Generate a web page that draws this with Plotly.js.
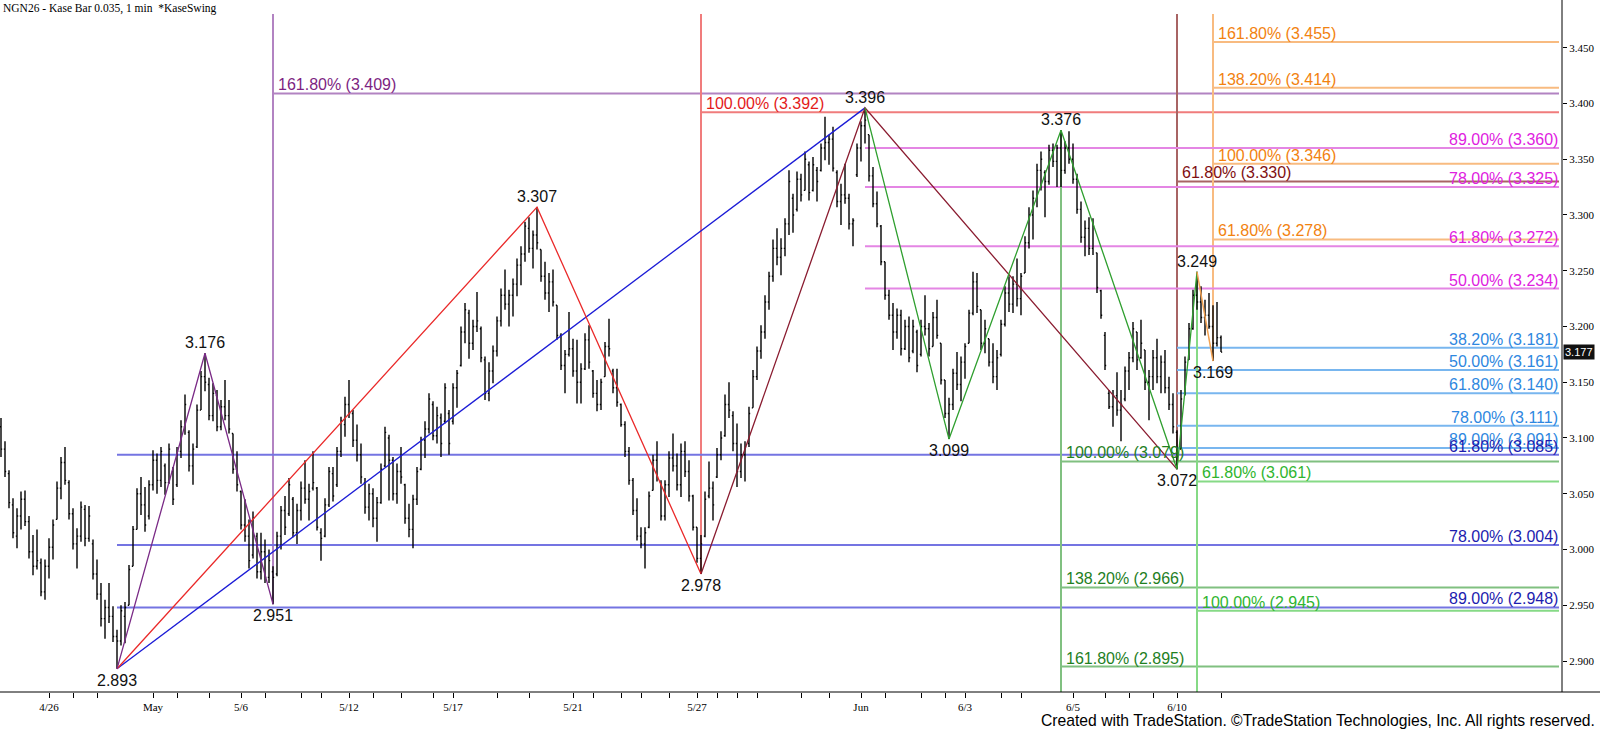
<!DOCTYPE html>
<html><head><meta charset="utf-8">
<script src="https://cdn.plot.ly/plotly-3.0.1.min.js"></script>
<style>html,body{margin:0;padding:0;background:#fff;}#chart{width:1600px;height:731px;}</style>
</head><body><div id="chart"></div>
<script>
// ---------------- DATA ----------------
const high = [
3.118,3.097,3.071,3.046,3.037,3.052,3.053,3.030,3.013,3.018,
2.992,2.991,3.010,3.027,3.061,3.083,3.092,3.062,3.037,3.019,
3.043,3.040,3.039,3.009,2.991,2.970,2.955,2.970,2.949,2.928,
2.950,2.953,2.986,3.021,3.055,3.065,3.056,3.062,3.089,3.086,
3.092,3.077,3.095,3.074,3.092,3.116,3.139,3.107,3.095,3.130,
3.160,3.176,3.154,3.149,3.143,3.134,3.152,3.134,3.104,3.088,
3.053,3.045,3.027,3.034,3.015,3.015,3.009,3.000,2.985,3.016,
3.039,3.048,3.064,3.047,3.041,3.061,3.080,3.059,3.088,3.056,
3.019,3.046,3.074,3.074,3.092,3.119,3.137,3.152,3.125,3.112,
3.095,3.064,3.059,3.055,3.047,3.077,3.110,3.103,3.083,3.077,
3.092,3.059,3.041,3.049,3.074,3.101,3.115,3.140,3.133,3.128,
3.122,3.149,3.125,3.149,3.161,3.200,3.221,3.215,3.206,3.231,
3.200,3.173,3.168,3.183,3.209,3.234,3.251,3.233,3.243,3.261,
3.272,3.294,3.298,3.286,3.307,3.269,3.258,3.248,3.251,3.219,
3.194,3.179,3.213,3.189,3.188,3.167,3.194,3.201,3.161,3.152,
3.153,3.186,3.207,3.162,3.162,3.131,3.115,3.092,3.064,3.046,
3.020,3.020,3.052,3.085,3.097,3.062,3.062,3.088,3.104,3.086,
3.095,3.097,3.080,3.049,3.020,3.013,3.052,3.079,3.061,3.091,
3.106,3.139,3.150,3.124,3.113,3.095,3.097,3.128,3.161,3.182,
3.201,3.228,3.249,3.278,3.288,3.279,3.297,3.340,3.319,3.339,
3.337,3.357,3.348,3.352,3.343,3.364,3.388,3.372,3.379,3.340,
3.328,3.346,3.319,3.297,3.364,3.384,3.396,3.372,3.343,3.321,
3.291,3.258,3.233,3.221,3.216,3.215,3.206,3.209,3.206,3.197,
3.206,3.228,3.203,3.213,3.224,3.185,3.152,3.136,3.162,3.177,
3.173,3.185,3.215,3.249,3.248,3.215,3.206,3.189,3.185,3.179,
3.206,3.236,3.245,3.245,3.261,3.248,3.281,3.307,3.322,3.346,
3.357,3.340,3.363,3.364,3.363,3.376,3.366,3.375,3.364,3.337,
3.312,3.295,3.298,3.297,3.266,3.233,3.195,3.143,3.143,3.159,
3.143,3.164,3.177,3.204,3.195,3.206,3.179,3.161,3.179,3.189,
3.174,3.179,3.155,3.140,3.107,3.143,3.173,3.203,3.233,3.249,
3.236,3.224,3.230,3.219,3.222,3.192
];
const low = [
3.083,3.065,3.037,3.010,3.001,3.018,3.021,2.992,2.977,2.982,
2.958,2.955,2.974,2.991,3.027,3.045,3.058,3.027,3.000,2.983,
3.007,3.003,3.007,2.973,2.955,2.931,2.920,2.934,2.917,2.893,
2.914,2.916,2.950,2.985,3.018,3.031,3.016,3.027,3.053,3.050,
3.056,3.049,3.059,3.040,3.056,3.082,3.103,3.070,3.058,3.091,
3.125,3.142,3.116,3.115,3.106,3.107,3.116,3.104,3.068,3.052,
3.018,3.007,2.983,2.992,2.974,2.973,2.970,2.970,2.951,2.976,
3.000,3.013,3.030,3.011,3.005,3.026,3.041,3.026,3.053,3.017,
2.990,3.011,3.038,3.043,3.056,3.083,3.101,3.118,3.092,3.079,
3.059,3.032,3.026,3.020,3.007,3.041,3.074,3.044,3.044,3.041,
3.059,3.023,3.011,3.001,3.040,3.071,3.082,3.104,3.098,3.095,
3.083,3.113,3.085,3.112,3.127,3.164,3.185,3.171,3.179,3.195,
3.168,3.134,3.133,3.149,3.173,3.200,3.215,3.200,3.209,3.227,
3.237,3.258,3.266,3.252,3.269,3.240,3.224,3.213,3.218,3.188,
3.161,3.140,3.173,3.155,3.131,3.131,3.161,3.162,3.136,3.124,
3.125,3.155,3.173,3.140,3.128,3.110,3.083,3.058,3.031,3.008,
3.001,2.983,3.019,3.053,3.061,3.026,3.026,3.047,3.070,3.053,
3.047,3.065,3.043,3.017,2.988,2.978,3.011,3.046,3.026,3.064,
3.080,3.101,3.118,3.088,3.056,3.064,3.061,3.092,3.127,3.152,
3.171,3.189,3.215,3.240,3.255,3.246,3.263,3.282,3.284,3.303,
3.312,3.322,3.313,3.321,3.312,3.339,3.349,3.345,3.339,3.307,
3.291,3.310,3.287,3.272,3.334,3.348,3.364,3.330,3.307,3.289,
3.255,3.224,3.206,3.179,3.189,3.174,3.179,3.168,3.176,3.159,
3.173,3.192,3.173,3.182,3.189,3.148,3.118,3.099,3.125,3.143,
3.133,3.153,3.185,3.210,3.212,3.179,3.176,3.164,3.149,3.143,
3.173,3.200,3.213,3.212,3.218,3.210,3.248,3.270,3.278,3.307,
3.322,3.298,3.327,3.343,3.325,3.325,3.337,3.346,3.328,3.301,
3.275,3.263,3.264,3.264,3.230,3.207,3.161,3.126,3.110,3.120,
3.097,3.133,3.143,3.168,3.161,3.171,3.143,3.116,3.143,3.149,
3.140,3.140,3.125,3.104,3.072,3.090,3.138,3.170,3.197,3.215,
3.203,3.192,3.198,3.169,3.182,3.177
];
const open = [
3.110,3.090,3.068,3.040,3.012,3.030,3.045,3.025,2.998,2.985,
2.988,2.962,2.985,3.002,3.027,3.055,3.078,3.060,3.032,3.005,
3.012,3.036,3.010,3.005,2.978,2.960,2.938,2.948,2.940,2.922,
2.918,2.940,2.950,2.985,3.018,3.050,3.040,3.030,3.058,3.080,
3.062,3.075,3.060,3.070,3.058,3.088,3.110,3.105,3.075,3.092,
3.125,3.155,3.148,3.120,3.138,3.110,3.128,3.120,3.104,3.072,
3.052,3.022,3.012,2.995,3.012,2.980,2.998,2.975,2.980,2.978,
3.012,3.035,3.032,3.045,3.015,3.035,3.055,3.045,3.055,3.055,
3.015,3.012,3.040,3.068,3.058,3.088,3.112,3.130,3.122,3.098,
3.085,3.060,3.038,3.050,3.028,3.042,3.075,3.100,3.080,3.050,
3.070,3.058,3.028,3.018,3.045,3.072,3.098,3.108,3.130,3.102,
3.118,3.115,3.122,3.115,3.145,3.165,3.195,3.212,3.185,3.200,
3.198,3.170,3.140,3.160,3.178,3.205,3.228,3.220,3.228,3.238,
3.255,3.265,3.288,3.270,3.282,3.269,3.245,3.230,3.240,3.219,
3.192,3.165,3.175,3.180,3.160,3.150,3.162,3.188,3.160,3.140,
3.130,3.155,3.182,3.160,3.145,3.130,3.112,3.088,3.062,3.035,
3.012,3.005,3.020,3.053,3.080,3.060,3.030,3.058,3.082,3.075,
3.058,3.088,3.070,3.048,3.020,2.992,3.012,3.048,3.055,3.065,
3.085,3.102,3.130,3.120,3.095,3.070,3.085,3.095,3.127,3.155,
3.178,3.195,3.222,3.245,3.270,3.262,3.270,3.292,3.315,3.305,
3.332,3.322,3.345,3.322,3.340,3.340,3.360,3.365,3.368,3.338,
3.312,3.318,3.315,3.292,3.336,3.360,3.380,3.372,3.335,3.310,
3.290,3.258,3.228,3.210,3.195,3.210,3.180,3.200,3.178,3.195,
3.175,3.200,3.198,3.182,3.208,3.185,3.152,3.122,3.130,3.158,
3.148,3.168,3.185,3.212,3.240,3.215,3.185,3.189,3.168,3.155,
3.175,3.202,3.230,3.220,3.238,3.225,3.248,3.275,3.300,3.315,
3.340,3.338,3.330,3.358,3.348,3.360,3.340,3.360,3.350,3.332,
3.305,3.280,3.288,3.270,3.266,3.232,3.192,3.140,3.128,3.138,
3.125,3.135,3.160,3.172,3.195,3.172,3.179,3.150,3.155,3.172,
3.155,3.168,3.145,3.130,3.105,3.090,3.140,3.170,3.198,3.228,
3.222,3.208,3.210,3.200,3.185,3.190
];
const close = [
3.090,3.070,3.042,3.015,3.030,3.045,3.025,2.998,2.985,2.990,
2.962,2.985,3.002,3.022,3.055,3.078,3.062,3.032,3.005,3.012,
3.038,3.010,3.030,2.978,2.960,2.938,2.948,2.940,2.922,2.918,
2.945,2.948,2.982,3.018,3.050,3.040,3.022,3.058,3.080,3.062,
3.088,3.060,3.090,3.045,3.088,3.110,3.130,3.075,3.090,3.125,
3.155,3.150,3.120,3.140,3.110,3.128,3.120,3.108,3.072,3.058,
3.022,3.012,2.990,3.028,2.980,2.998,2.975,2.990,2.975,3.012,
3.035,3.020,3.058,3.015,3.035,3.055,3.045,3.052,3.060,3.020,
3.010,3.040,3.070,3.048,3.088,3.115,3.130,3.122,3.098,3.085,
3.065,3.038,3.050,3.028,3.042,3.072,3.105,3.080,3.050,3.070,
3.065,3.028,3.018,3.045,3.070,3.098,3.108,3.135,3.102,3.120,
3.095,3.145,3.095,3.145,3.158,3.195,3.215,3.185,3.200,3.205,
3.172,3.140,3.160,3.178,3.205,3.228,3.220,3.228,3.238,3.255,
3.265,3.290,3.270,3.282,3.275,3.245,3.230,3.240,3.222,3.192,
3.165,3.175,3.180,3.160,3.150,3.162,3.188,3.168,3.140,3.130,
3.150,3.182,3.180,3.145,3.132,3.112,3.088,3.062,3.035,3.012,
3.005,3.015,3.048,3.080,3.065,3.030,3.058,3.082,3.075,3.058,
3.088,3.070,3.048,3.020,2.992,3.005,3.045,3.055,3.040,3.085,
3.100,3.130,3.125,3.095,3.070,3.085,3.092,3.122,3.155,3.178,
3.195,3.222,3.245,3.270,3.262,3.270,3.292,3.330,3.300,3.332,
3.318,3.350,3.320,3.345,3.330,3.360,3.365,3.368,3.342,3.312,
3.318,3.315,3.292,3.295,3.360,3.380,3.385,3.335,3.310,3.292,
3.258,3.228,3.210,3.195,3.210,3.180,3.200,3.172,3.200,3.165,
3.200,3.198,3.180,3.208,3.192,3.152,3.122,3.130,3.158,3.148,
3.168,3.182,3.212,3.240,3.218,3.185,3.198,3.168,3.155,3.172,
3.202,3.230,3.220,3.238,3.225,3.245,3.275,3.300,3.315,3.340,
3.350,3.330,3.358,3.348,3.360,3.340,3.360,3.350,3.332,3.305,
3.280,3.288,3.270,3.290,3.235,3.210,3.165,3.128,3.138,3.125,
3.130,3.160,3.172,3.198,3.170,3.185,3.150,3.155,3.172,3.155,
3.168,3.145,3.130,3.110,3.080,3.135,3.168,3.198,3.228,3.222,
3.208,3.210,3.200,3.185,3.190,3.177
];
const lastPrice = 3.177;

const dateTickIdx  = [12, 38, 60, 87, 113, 143, 174, 215, 241, 268, 294];
const dateTickText = ['4/26','May','5/6','5/12','5/17','5/21','5/27','Jun','6/3','6/5','6/10'];
const minorTickIdx = [18,24,44,52,66,75,80,93,100,108,124,132,148,155,160,167,179,184,189,200,207,221,230,236,250,255,276,282,288,305];

// swing pivots (alternating low / high)
const swingIdx   = [29, 51, 68, 134, 175, 216, 237, 265, 294, 299, 303];
const swingPrice = [2.893, 3.176, 2.951, 3.307, 2.978, 3.396, 3.099, 3.376, 3.072, 3.249, 3.169];
const swingKind  = ['L','H','L','H','L','H','L','H','L','H','L'];

// swing legs (indices into the pivot arrays)
const purpleLeg = [0, 1, 2];
const redLeg    = [0, 3, 4];
const blueLeg   = [0, 5];
const maroonLeg = [4, 5, 8];
const greenLeg  = [5, 6, 7, 8, 9];
const orangeLeg = [9, 10];

// Fibonacci levels
const purpleLevels  = [3.409];                      const purplePct  = ['161.80%'];
const redLevels     = [3.392];                      const redPct     = ['100.00%'];
const maroonLevels  = [3.330];                      const maroonPct  = ['61.80%'];
const orangeLevels  = [3.455, 3.414, 3.346, 3.278]; const orangePct  = ['161.80%','138.20%','100.00%','61.80%'];
const magentaLevels = [3.360, 3.325, 3.272, 3.234]; const magentaPct = ['89.00%','78.00%','61.80%','50.00%'];
const skyLevels     = [3.181, 3.161, 3.140, 3.111, 3.091]; const skyPct = ['38.20%','50.00%','61.80%','78.00%','89.00%'];
const blueLevels    = [3.085, 3.004, 2.948];        const bluePct    = ['61.80%','78.00%','89.00%'];
const greenLevels   = [3.079, 2.966, 2.895];        const greenPct   = ['100.00%','138.20%','161.80%'];
const limeLevels    = [3.061, 2.945];               const limePct    = ['61.80%','100.00%'];

// ---------------- CHART ----------------
const X_MIN = -0.25, X_MAX = 390.25, LINE_END = 389.5;
const Y_MIN = 2.8722, Y_MAX = 3.4802;
const SANS = 'Liberation Sans, Arial, sans-serif';
const SERIF = 'Liberation Serif, Times New Roman, serif';

const fibGroups = [
  {levels: purpleLevels,  pct: purplePct,  pivot: 2,  vert: 'up',   align: 'left',  line: '#b283c2', text: '#7d1f82'},
  {levels: redLevels,     pct: redPct,     pivot: 4,  vert: 'up',   align: 'left',  line: '#f07c7c', text: '#e31b1b'},
  {levels: maroonLevels,  pct: maroonPct,  pivot: 8,  vert: 'up',   align: 'left',  line: '#a86464', text: '#7f0f12'},
  {levels: orangeLevels,  pct: orangePct,  pivot: 10, vert: 'up',   align: 'left',  line: '#f8bb80', text: '#f2820f'},
  {levels: magentaLevels, pct: magentaPct, pivot: 5,  vert: null,   align: 'right', line: '#e486e4', text: '#e021df'},
  {levels: skyLevels,     pct: skyPct,     pivot: 8,  vert: null,   align: 'right', line: '#78b6ef', text: '#2e87e0'},
  {levels: blueLevels,    pct: bluePct,    pivot: 0,  vert: null,   align: 'right', line: '#7474e2', text: '#1c1cae'},
  {levels: greenLevels,   pct: greenPct,   pivot: 7,  vert: 'down', align: 'left',  line: '#80c080', text: '#1f801f'},
  {levels: limeLevels,    pct: limePct,    pivot: 9,  vert: 'down', align: 'left',  line: '#86da86', text: '#2fb52f'}
];

const shapes = [];
const annotations = [];

fibGroups.forEach(g => {
  const x0 = swingIdx[g.pivot];
  const p0 = swingPrice[g.pivot];
  if (g.vert) {
    shapes.push({type: 'line', xref: 'x', yref: 'y', x0: x0, x1: x0,
      y0: p0, y1: g.vert === 'up' ? Y_MAX : Y_MIN, layer: 'below',
      line: {color: g.line, width: 2}});
  }
  g.levels.forEach((lv, k) => {
    shapes.push({type: 'line', xref: 'x', yref: 'y', x0: x0, x1: LINE_END,
      y0: lv, y1: lv, layer: 'below', line: {color: g.line, width: 2}});
    const txt = g.pct[k] + ' (' + lv.toFixed(3) + ')';
    annotations.push({
      xref: 'x', yref: 'y', showarrow: false, text: txt,
      x: g.align === 'left' ? x0 : LINE_END, xanchor: g.align,
      xshift: g.align === 'left' ? 3 : 1,
      y: lv, yanchor: 'bottom', yshift: -2,
      font: {family: SANS, size: 16, color: g.text}
    });
  });
});

// swing labels
swingIdx.forEach((xi, k) => {
  const isHigh = swingKind[k] === 'H';
  annotations.push({
    xref: 'x', yref: 'y', showarrow: false, text: swingPrice[k].toFixed(3),
    x: xi, y: swingPrice[k], xanchor: 'center',
    yanchor: isHigh ? 'bottom' : 'top', yshift: isHigh ? 0 : -1,
    font: {family: SANS, size: 16, color: '#111'}
  });
});

// last price box
annotations.push({
  xref: 'paper', yref: 'y', x: 1, xanchor: 'left', xshift: 1, y: lastPrice, yanchor: 'middle',
  text: lastPrice.toFixed(3), showarrow: false, bgcolor: '#111', borderpad: 1,
  font: {family: 'Liberation Sans Narrow, ' + SANS, size: 11, color: '#fff'}
});

// title and credit
annotations.push({
  xref: 'paper', yref: 'paper', x: 0, xanchor: 'left', xshift: 1, y: 1 + 14/678, yanchor: 'top',
  text: 'NGN26 - Kase Bar 0.035, 1 min&nbsp;&nbsp;*KaseSwing', showarrow: false,
  font: {family: SERIF, size: 11.5, color: '#000'}
});
annotations.push({
  xref: 'paper', yref: 'paper', x: 1597/1562, xanchor: 'right', y: -28/678, yanchor: 'middle',
  text: 'Created with TradeStation. ©TradeStation Technologies, Inc. All rights reserved.', showarrow: false,
  font: {family: SANS, size: 15.7, color: '#000'}
});

// axis frame lines (extend past plot like the original)
shapes.push({type: 'line', xref: 'paper', yref: 'paper', x0: 0, x1: 1600/1562, y0: 0, y1: 0,
  line: {color: '#000', width: 1}, layer: 'above'});
shapes.push({type: 'line', xref: 'paper', yref: 'paper', x0: 1, x1: 1, y0: 0, y1: 1 + 14/678,
  line: {color: '#000', width: 1}, layer: 'above'});

const traces = [{
  type: 'ohlc', x: high.map((_, k) => k), open: open, high: high, low: low, close: close,
  increasing: {line: {color: '#000', width: 1.4}},
  decreasing: {line: {color: '#000', width: 1.4}},
  tickwidth: 0.3, hoverinfo: 'skip', showlegend: false
}];

function legTrace(leg, color, width) {
  return {type: 'scatter', mode: 'lines', x: leg.map(k => swingIdx[k]), y: leg.map(k => swingPrice[k]),
    line: {color: color, width: width}, hoverinfo: 'skip', showlegend: false};
}
traces.push(legTrace(blueLeg,   '#1b1bd6', 1.3));
traces.push(legTrace(redLeg,    '#ea2a2a', 1.3));
traces.push(legTrace(purpleLeg, '#7a2a86', 1.3));
traces.push(legTrace(maroonLeg, '#8a1c30', 1.3));
traces.push(legTrace(greenLeg,  '#2f9f2f', 1.3));
traces.push(legTrace(orangeLeg, '#f2a252', 1.5));

const layout = {
  width: 1600, height: 731,
  margin: {l: 0, r: 38, t: 14, b: 39, pad: 0},
  paper_bgcolor: '#fff', plot_bgcolor: '#fff',
  showlegend: false,
  xaxis: {
    range: [X_MIN, X_MAX], showgrid: false, zeroline: false, showline: false,
    rangeslider: {visible: false}, fixedrange: true,
    tickmode: 'array', tickvals: dateTickIdx, ticktext: dateTickText,
    ticks: 'outside', ticklen: 5, tickcolor: '#000', tickwidth: 1,
    tickfont: {family: SERIF, size: 11, color: '#000'},
    minor: {tickmode: 'array', tickvals: minorTickIdx, ticks: 'outside', ticklen: 5, tickcolor: '#000', tickwidth: 1, showgrid: false}
  },
  yaxis: {
    side: 'right', range: [Y_MIN, Y_MAX], showgrid: false, zeroline: false, showline: false,
    tick0: 2.9, dtick: 0.05, tickformat: '.3f', fixedrange: true,
    ticks: 'outside', ticklen: 4, tickcolor: '#000', tickwidth: 1,
    tickfont: {family: SERIF, size: 11, color: '#000'}
  },
  shapes: shapes,
  annotations: annotations
};

Plotly.newPlot('chart', traces, layout, {staticPlot: true, displayModeBar: false});
</script>
</body></html>
